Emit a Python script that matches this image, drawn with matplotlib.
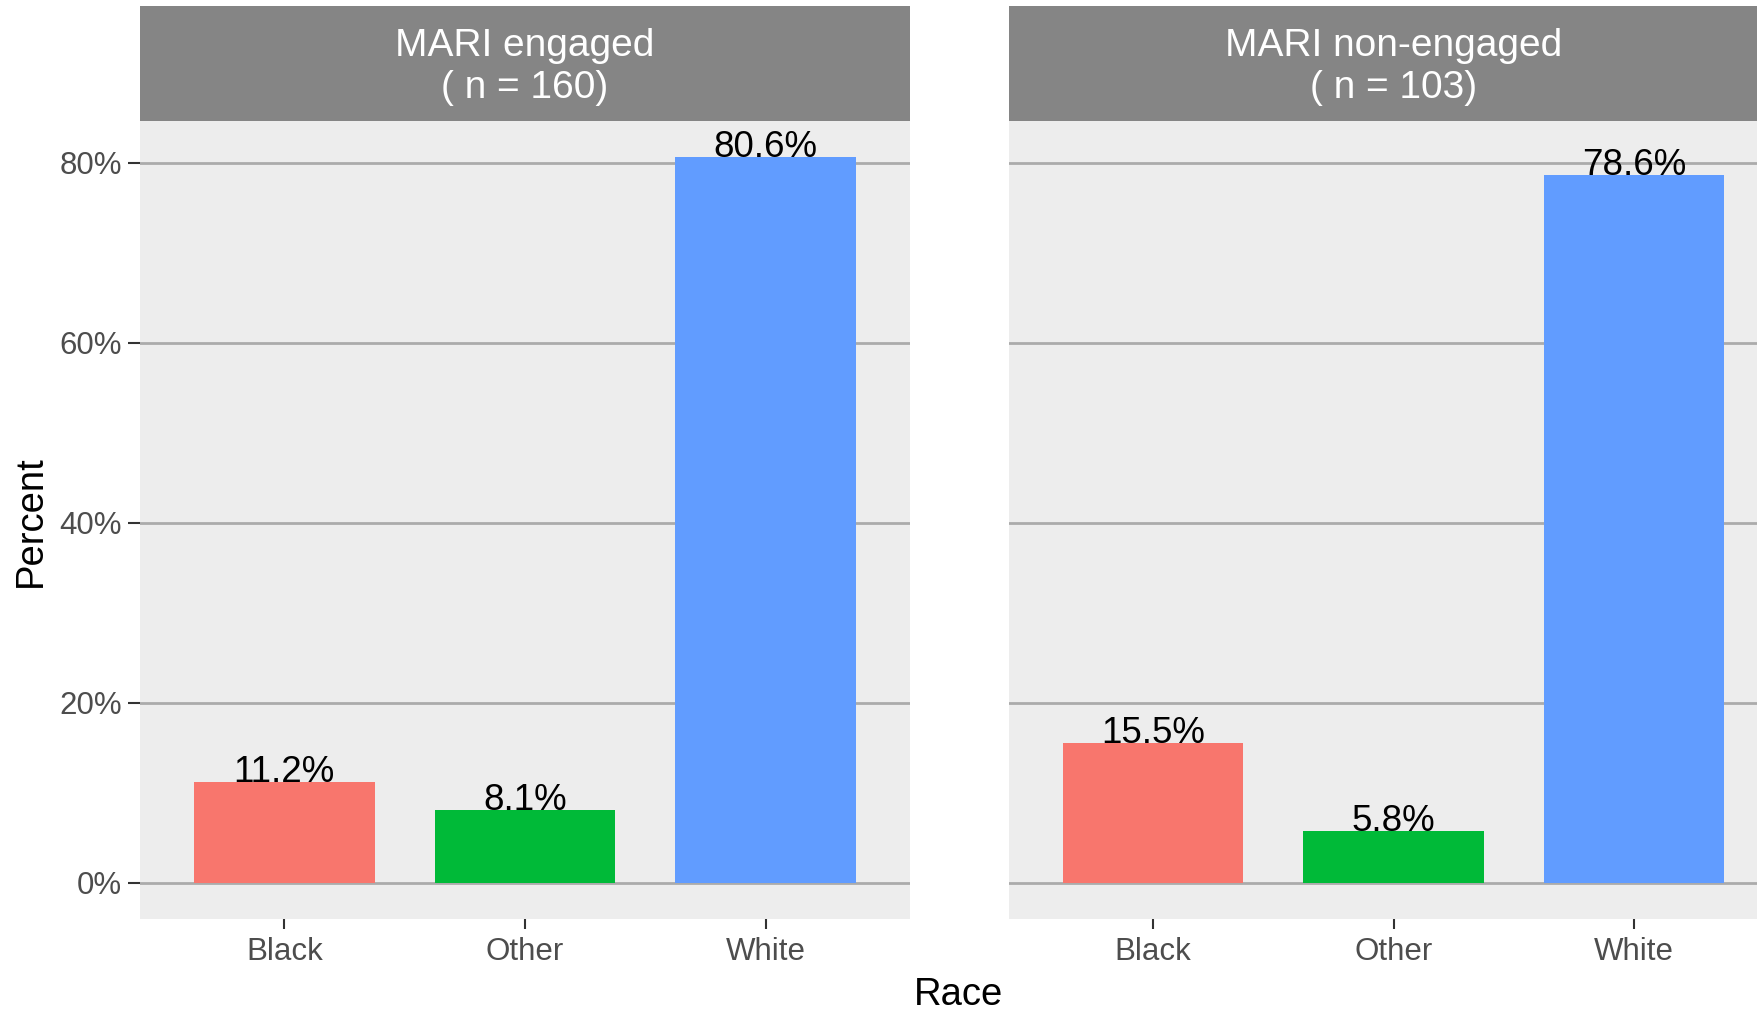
import matplotlib.pyplot as plt

# data
races = ['Black', 'Other', 'White']
panel_titles = ['MARI engaged\n( n = 160)', 'MARI non-engaged\n( n = 103)']
engaged_pct = [11.2, 8.1, 80.6]
non_engaged_pct = [15.5, 5.8, 78.6]
bar_colors = ['#F8766D', '#00BA38', '#619CFF']
y_ticks = [0, 20, 40, 60, 80]

plt.rcParams['font.family'] = ['Liberation Sans', 'DejaVu Sans']

fig = plt.figure(figsize=(17.57, 10.14), dpi=100)

W, H = 1757, 1014
panel_w = 770 / W
panel_b = 1 - 919 / H
panel_h = (919 - 121) / H
strip_h = (121 - 5.6) / H
lefts = [140 / W, 1008.5 / W]

for i, (vals, title) in enumerate(zip([engaged_pct, non_engaged_pct], panel_titles)):
    ax = fig.add_axes([lefts[i], panel_b, panel_w, panel_h])
    ax.set_facecolor('#EDEDED')
    x = range(1, len(races) + 1)
    ax.bar(x, vals, width=0.75, color=bar_colors, zorder=3)
    for xi, v in zip(x, vals):
        ax.text(xi, v, f'{v:.1f}%', ha='center', va='baseline',
                fontsize=26.5, color='black', zorder=4)
    ax.set_xlim(0.4, 3.6)
    ax.set_ylim(-4.03, 84.63)
    ax.set_yticks(y_ticks)
    ax.yaxis.grid(True, color='#ABABAB', linewidth=2, zorder=1)
    ax.xaxis.grid(False)
    for s in ax.spines.values():
        s.set_visible(False)
    ax.set_xticks(list(x))
    ax.set_xticklabels(races)
    ax.tick_params(axis='x', length=7, width=1.5, color='#333333', pad=6,
                   labelsize=22.5, labelcolor='#4D4D4D')
    if i == 0:
        ax.set_yticklabels([f'{t}%' for t in y_ticks])
        ax.tick_params(axis='y', length=9, width=1.5, color='#333333', pad=4,
                       labelsize=22.5, labelcolor='#4D4D4D')
    else:
        ax.tick_params(axis='y', length=0, labelleft=False)

    # facet strip
    sax = fig.add_axes([lefts[i], panel_b + panel_h, panel_w, strip_h])
    sax.set_facecolor('#858585')
    sax.set_xticks([])
    sax.set_yticks([])
    for s in sax.spines.values():
        s.set_visible(False)
    sax.text(0.5, 0.47, title, ha='center', va='center', fontsize=28,
             color='white', linespacing=1.2, transform=sax.transAxes)

fig.text(959 / W, 1 - 995 / H, 'Race', ha='center', va='center', fontsize=27.5)
fig.text(31 / W, 1 - 521 / H, 'Percent', ha='center', va='center',
         rotation=90, fontsize=27.5)

fig.savefig('out.png', dpi=100)
